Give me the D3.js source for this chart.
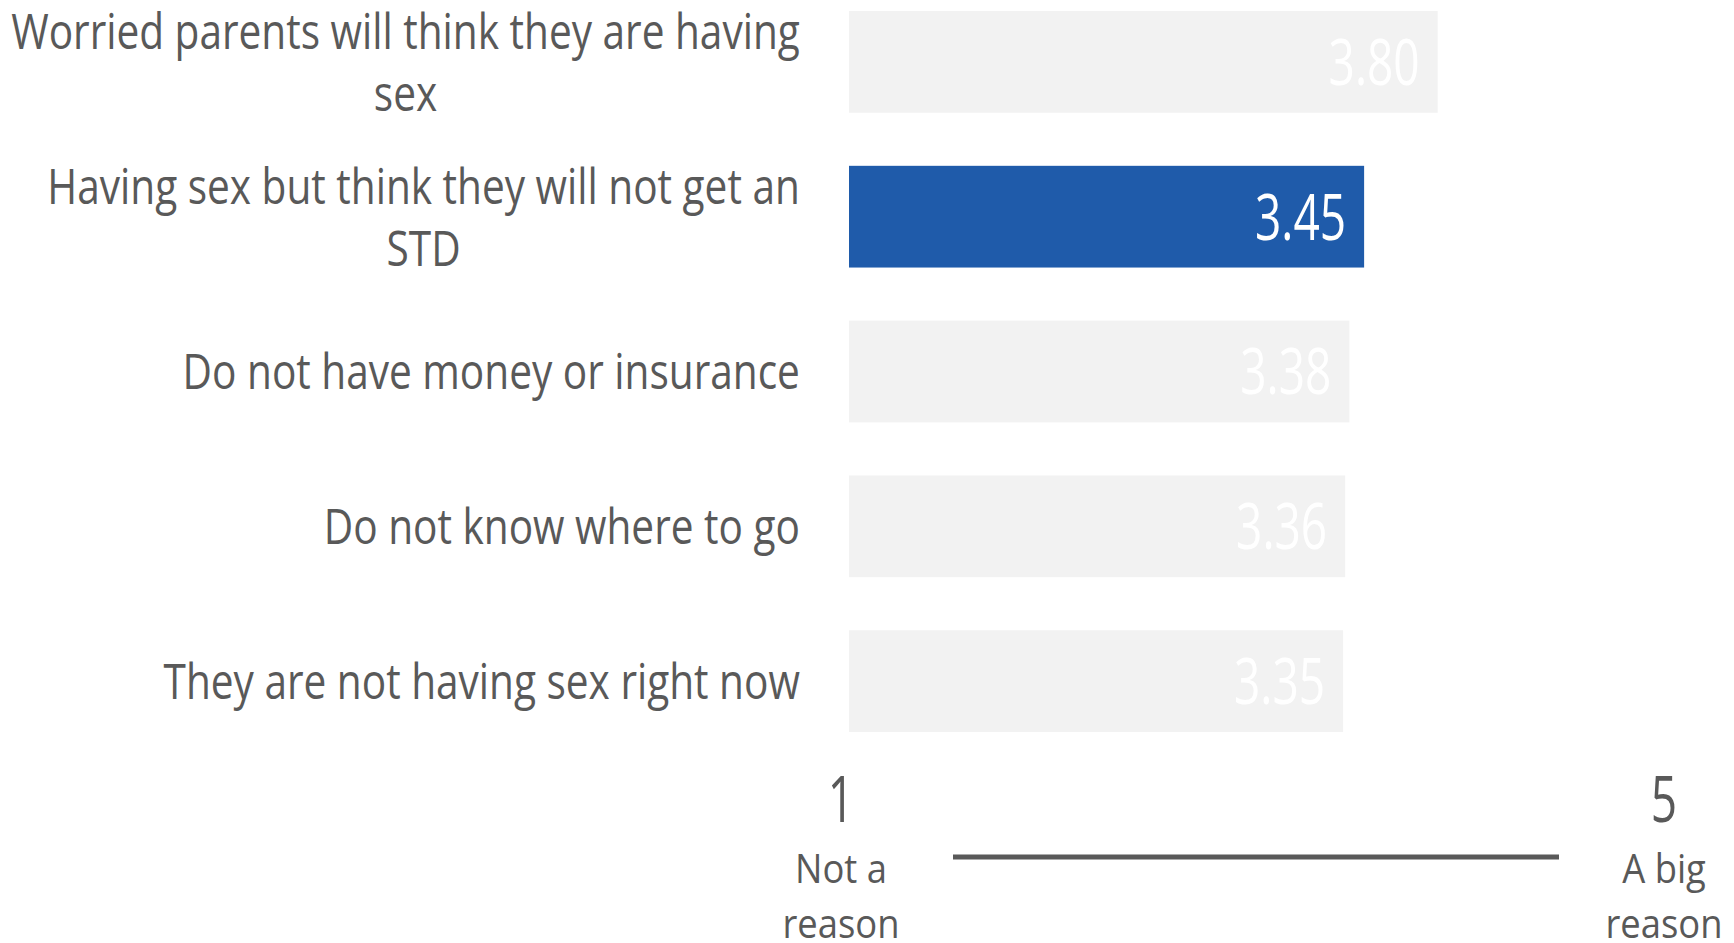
<!DOCTYPE html>
<html>
<head>
<meta charset="utf-8">
<script src="https://cdn.jsdelivr.net/npm/d3@7"></script>
<style>
  html, body { margin: 0; padding: 0; background: #ffffff; }
  svg { display: block; }
  text { font-family: "Open Sans", "Noto Sans", sans-serif; font-weight: 400; }
</style>
</head>
<body>
<svg id="chart" width="1734" height="943"></svg>
<script>
// Reasons teens give for not getting tested (mean rating, 1 = not a reason, 5 = a big reason)
const categories = [
  "Worried parents will think they are having\nsex",
  "Having sex but think they will not get an\nSTD",
  "Do not have money or insurance",
  "Do not know where to go",
  "They are not having sex right now"
];
const values = [3.80, 3.45, 3.38, 3.36, 3.35];
const highlighted = ["Having sex but think they will not get an\nSTD"];

// Rating scale shown under the bars
const scaleEnds = [1, 5];
const scaleEndLabels = [["Not a", "reason"], ["A big", "reason"]];

const textColor = "#595959";
const barColor = "#f2f2f2";
const highlightColor = "#1f5baa";
const valSqueeze = 0.72;       // condensed look of the typeface
const annSqueeze = 0.91;

const svg = d3.select("#chart");

const x = d3.scaleLinear().domain(scaleEnds).range([849, 1690]);
const y = d3.scaleBand().domain(categories).range([11, 732]).paddingInner(0.343).paddingOuter(0);

const rows = categories.map((c, i) => ({ cat: c, value: values[i], hi: highlighted.includes(c) }));

// bars
svg.append("g").selectAll("rect")
  .data(rows)
  .join("rect")
  .attr("x", x(scaleEnds[0]))
  .attr("y", d => y(d.cat))
  .attr("width", d => x(d.value) - x(scaleEnds[0]))
  .attr("height", y.bandwidth())
  .attr("fill", d => d.hi ? highlightColor : barColor);

// value labels inside the bar ends
const valFont = 64;
svg.append("g").selectAll("text")
  .data(rows)
  .join("text")
  .attr("transform", d => `translate(${x(d.value) - 18},${y(d.cat) + y.bandwidth() / 2 + valFont * 0.357}) scale(${valSqueeze},1)`)
  .attr("text-anchor", "end")
  .attr("font-size", valFont)
  .attr("fill", "#ffffff")
  .text(d => d.value.toFixed(2));

// category labels: right-aligned block with centred lines, condensed to fit the label column
const catFont = 50, catLine = 62, labelLeft = 11, labelRight = 800;
const labelG = svg.append("g");
const labelSets = rows.map(d => ({
  d,
  texts: d.cat.split("\n").map(ln => labelG.append("text")
    .attr("font-size", catFont)
    .attr("fill", textColor)
    .attr("text-anchor", "middle")
    .text(ln))
}));
const widest = d3.max(labelSets.flatMap(s => s.texts.map(t => t.node().getComputedTextLength())));
const catSqueeze = (labelRight - labelLeft) / widest;
labelSets.forEach(({ d, texts }) => {
  const cy = y(d.cat) + y.bandwidth() / 2;
  const blockW = d3.max(texts, t => t.node().getComputedTextLength()) * catSqueeze;
  texts.forEach((t, i) => {
    const by = cy + (i - (texts.length - 1) / 2) * catLine + catFont * 0.357;
    t.attr("transform", `translate(${labelRight - blockW / 2},${by}) scale(${catSqueeze},1)`);
  });
});

// rating scale annotation
const ann = svg.append("g");
const endX = [841, 1664];
scaleEnds.forEach((v, i) => {
  ann.append("text")
    .attr("transform", `translate(${endX[i]},822) scale(${valSqueeze},1)`)
    .attr("text-anchor", "middle")
    .attr("font-size", 64)
    .attr("fill", textColor)
    .text(v);
  scaleEndLabels[i].forEach((ln, j) => {
    ann.append("text")
      .attr("transform", `translate(${endX[i]},${883 + j * 55}) scale(${annSqueeze},1)`)
      .attr("text-anchor", "middle")
      .attr("font-size", 40)
      .attr("fill", textColor)
      .text(ln);
  });
});
ann.append("line")
  .attr("x1", 953).attr("x2", 1559)
  .attr("y1", 857).attr("y2", 857)
  .attr("stroke", textColor)
  .attr("stroke-width", 5);
</script>
</body>
</html>
